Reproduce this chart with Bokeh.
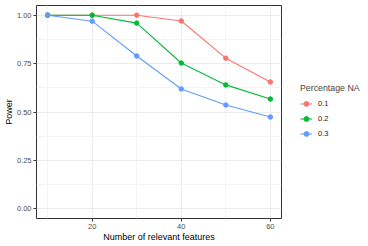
from bokeh.plotting import figure
from bokeh.models import FixedTicker, Legend, LegendItem, Range1d, NumeralTickFormatter
from bokeh.embed import file_html
from bokeh.resources import INLINE

features = [10, 20, 30, 40, 50, 60]
power_01 = [1.0, 1.0, 1.0, 0.97, 0.778, 0.655]
power_02 = [1.0, 1.0, 0.959, 0.753, 0.64, 0.567]
power_03 = [1.0, 0.969, 0.789, 0.619, 0.536, 0.474]
series = [power_01, power_02, power_03]
series_labels = ["0.1", "0.2", "0.3"]
colors = ["#F8766D", "#00BA38", "#619CFF"]
x_ticks = [20, 40, 60]
x_minor = [10, 30, 50]
y_ticks = [0.0, 0.25, 0.5, 0.75, 1.0]
y_minor = [0.125, 0.375, 0.625, 0.875]

FONT = "Liberation Sans"

p = figure(frame_width=245, frame_height=213,
           min_border_left=36, min_border_top=5, min_border_bottom=28, min_border_right=10,
           x_range=Range1d(7.5, 62.5), y_range=Range1d(-0.05, 1.05),
           output_backend="svg", toolbar_location=None,
           styles={"position": "absolute", "left": "0px", "top": "0px"})
p.background_fill_color = "white"
p.border_fill_color = "white"
p.outline_line_color = "#333333"
p.outline_line_width = 1

p.xaxis.ticker = FixedTicker(ticks=x_ticks, minor_ticks=x_minor)
p.yaxis.ticker = FixedTicker(ticks=y_ticks, minor_ticks=y_minor)
p.yaxis.formatter = NumeralTickFormatter(format="0.00")
p.xaxis.axis_label = "Number of relevant features"
p.yaxis.axis_label = "Power"
for ax in (p.xaxis, p.yaxis):
    ax.axis_line_color = None
    ax.major_tick_line_color = "#333333"
    ax.major_tick_out = 3
    ax.major_tick_in = 0
    ax.minor_tick_line_color = None
    ax.major_label_text_font = FONT
    ax.major_label_text_font_size = "7.5px"
    ax.major_label_text_color = "#4D4D4D"
    ax.major_label_standoff = 1
    ax.axis_label_text_font = FONT
    ax.axis_label_text_font_size = "9px"
    ax.axis_label_text_font_style = "normal"
    ax.axis_label_text_color = "black"
    ax.axis_label_standoff = 0

for g in (p.xgrid, p.ygrid):
    g.grid_line_color = "#EBEBEB"
    g.grid_line_width = 1
    g.minor_grid_line_color = "#F4F4F4"
    g.minor_grid_line_width = 1

items = []
for vals, lab, col in zip(series, series_labels, colors):
    r1 = p.line(features, vals, line_color=col, line_width=1.1)
    r2 = p.scatter(features, vals, size=4.5, fill_color=col, line_color=col)
    items.append(LegendItem(label=lab, renderers=[r1, r2]))

legend = Legend(items=items, title="Percentage NA", location="center_left")
legend.title_text_font = FONT
legend.title_text_font_size = "8.8px"
legend.title_text_font_style = "normal"
legend.title_standoff = 3
legend.label_text_font = FONT
legend.label_text_font_size = "7.5px"
legend.label_text_color = "#1A1A1A"
legend.glyph_width = 12
legend.glyph_height = 15
legend.label_height = 15
legend.spacing = 0
legend.padding = 5
legend.margin = 19
legend.label_standoff = 6
legend.border_line_color = None
legend.background_fill_alpha = 0
p.add_layout(legend, "right")

open("out.html", "w").write(file_html(p, INLINE))
